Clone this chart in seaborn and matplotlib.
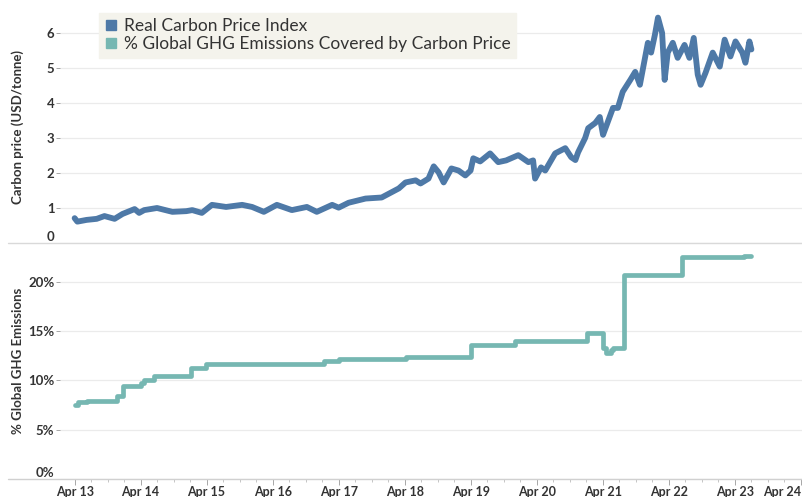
import pandas as pd
import matplotlib
matplotlib.use("Agg")
import matplotlib.pyplot as plt
import matplotlib.dates as mdates
from matplotlib.lines import Line2D
from matplotlib.ticker import FuncFormatter
import seaborn as sns

# Real carbon price index (USD/tonne)
price_dates = [
    "2013-04-01", "2013-04-16", "2013-06-06", "2013-08-01", "2013-09-13", "2013-11-08",
    "2013-12-22", "2014-02-27", "2014-03-24", "2014-04-21", "2014-07-01", "2014-09-24",
    "2014-12-10", "2015-01-12", "2015-03-06", "2015-05-01", "2015-07-18", "2015-10-15",
    "2015-12-09", "2016-02-12", "2016-04-24", "2016-07-16", "2016-10-07", "2016-12-01",
    "2017-02-24", "2017-04-01", "2017-05-26", "2017-08-28", "2017-11-25", "2018-02-28",
    "2018-04-06", "2018-06-01", "2018-06-28", "2018-08-11", "2018-09-09", "2018-10-06",
    "2018-11-03", "2018-12-16", "2019-01-24", "2019-03-03", "2019-04-01", "2019-04-16",
    "2019-05-24", "2019-07-18", "2019-09-01", "2019-10-15", "2019-12-21", "2020-02-15",
    "2020-03-12", "2020-03-23", "2020-04-25", "2020-05-18", "2020-07-12", "2020-09-06",
    "2020-10-09", "2020-11-01", "2020-11-16", "2020-12-25", "2021-01-11", "2021-02-19",
    "2021-03-16", "2021-04-03", "2021-05-28", "2021-06-24", "2021-07-21", "2021-09-01",
    "2021-09-28", "2021-10-24", "2021-12-07", "2021-12-25", "2022-01-15", "2022-02-01",
    "2022-02-24", "2022-03-10", "2022-03-27", "2022-04-24", "2022-05-21", "2022-06-28",
    "2022-07-25", "2022-08-18", "2022-09-09", "2022-09-25", "2022-10-22", "2022-12-01",
    "2023-01-09", "2023-02-05", "2023-03-09", "2023-04-06", "2023-05-14", "2023-05-31",
    "2023-06-22", "2023-07-03",
]
price_values = [
    0.71, 0.61, 0.66, 0.69, 0.77, 0.69,
    0.83, 0.97, 0.86, 0.94, 1.00, 0.89,
    0.91, 0.94, 0.86, 1.09, 1.03, 1.09,
    1.03, 0.89, 1.09, 0.94, 1.03, 0.89,
    1.09, 1.01, 1.15, 1.27, 1.30, 1.56,
    1.73, 1.79, 1.70, 1.84, 2.19, 2.02,
    1.73, 2.13, 2.07, 1.93, 2.07, 2.42,
    2.33, 2.56, 2.31, 2.36, 2.51, 2.31,
    2.36, 1.84, 2.16, 2.07, 2.56, 2.71,
    2.45, 2.37, 2.59, 3.00, 3.28, 3.43,
    3.60, 3.09, 3.86, 3.86, 4.32, 4.66,
    4.89, 4.52, 5.72, 5.44, 5.95, 6.44,
    6.00, 4.66, 5.44, 5.72, 5.29, 5.66,
    5.29, 5.86, 4.81, 4.52, 4.86, 5.44,
    5.04, 5.81, 5.33, 5.76, 5.44, 5.15,
    5.76, 5.53,
]

# % of global GHG emissions covered by a carbon price (step changes)
cover_dates = [
    "2013-04-01", "2013-04-20", "2013-06-10", "2013-11-24", "2013-12-22", "2014-04-04",
    "2014-04-21", "2014-06-15", "2015-01-06", "2015-03-28", "2017-01-10", "2017-04-01",
    "2018-04-06", "2019-04-04", "2019-12-04", "2021-01-05", "2021-04-03", "2021-04-18",
    "2021-05-16", "2021-05-28", "2021-07-27", "2022-06-12", "2023-05-25", "2023-07-03",
]
cover_values = [
    7.5, 7.8, 7.9, 8.4, 9.4, 9.75,
    10.06, 10.4, 11.2, 11.6, 11.9, 12.2,
    12.4, 13.6, 14.0, 14.8, 13.3, 12.8,
    13.1, 13.3, 20.7, 22.5, 22.6, 22.6,
]

legend_labels = ["Real Carbon Price Index", "% Global GHG Emissions Covered by Carbon Price"]
blue = "#4e79a7"
teal = "#76b7b2"

price = pd.DataFrame({"date": pd.to_datetime(price_dates), "value": price_values})
cover = pd.DataFrame({"date": pd.to_datetime(cover_dates), "value": cover_values})

sns.set_style("white")
plt.rcParams["font.family"] = ["Lato", "DejaVu Sans"]

fig = plt.figure(figsize=(8.02, 4.97), dpi=100)
W, H = 802, 497
ax1 = fig.add_axes([60 / W, 1 - 243 / H, 742 / W, (243 - 12) / H])
ax2 = fig.add_axes([60 / W, 1 - 479 / H, 742 / W, (479 - 243) / H], sharex=ax1)

sns.lineplot(data=price, x="date", y="value", ax=ax1, color=blue, linewidth=4.2,
             solid_capstyle="round", solid_joinstyle="round")
sns.lineplot(data=cover, x="date", y="value", ax=ax2, color=teal, linewidth=3.4,
             drawstyle="steps-post", solid_capstyle="round")

ax1.set_ylim(0, 6.6)
ax1.set_yticks([0, 1, 2, 3, 4, 5, 6])
ax2.set_ylim(0, 23.9)
ax2.set_yticks([0, 5, 10, 15, 20])
ax2.yaxis.set_major_formatter(FuncFormatter(lambda v, p: f"{v:.0f}%"))

ax1.set_xlim(pd.Timestamp("2013-01-10"), pd.Timestamp("2024-04-08"))
ax2.xaxis.set_major_locator(mdates.MonthLocator(bymonth=4))
ax2.xaxis.set_minor_locator(mdates.MonthLocator(bymonth=[1, 7, 10]))
ax2.xaxis.set_major_formatter(mdates.DateFormatter("%b %y"))

for ax in (ax1, ax2):
    for s in ax.spines.values():
        s.set_visible(False)
    ax.grid(axis="y", color="#ebebeb", linewidth=0.9)
    ax.set_xlabel("")
    ax.tick_params(axis="y", which="major", length=3, width=0.6, color="#999999",
                   labelsize=9.5, labelcolor="#333333", pad=1, left=True)

ax1.tick_params(axis="x", which="both", bottom=False, labelbottom=False)
ax2.tick_params(axis="x", which="major", length=4, width=0.6, color="#999999",
                labelsize=9, labelcolor="#333333", bottom=True, pad=1)
ax2.tick_params(axis="x", which="minor", length=2.5, width=0.6, color="#bbbbbb", bottom=True)

for lab in ax1.get_yticklabels() + ax2.get_yticklabels() + ax2.get_xticklabels():
    lab.set_fontweight("bold")
ax1.get_yticklabels()[0].set_verticalalignment("bottom")
ax2.get_yticklabels()[0].set_verticalalignment("bottom")
ax2.get_xticklabels()[-1].set_horizontalalignment("right")

ax1.set_ylabel("Carbon price (USD/tonne)", fontsize=9.5, fontweight="bold", color="#333333")
ax2.set_ylabel("% Global GHG Emissions", fontsize=9.5, fontweight="bold", color="#333333")
ax1.yaxis.set_label_coords(-0.048, 0.5)
ax2.yaxis.set_label_coords(-0.048, 0.5)

# panel divider and baseline running under the axis labels
fig.add_artist(Line2D([8 / W, 1], [1 - 243 / H] * 2, color="#d9d9d9", linewidth=1))
fig.add_artist(Line2D([8 / W, 1], [1 - 479 / H] * 2, color="#d0d0d0", linewidth=1))

handles = [Line2D([], [], marker="s", linestyle="", color=blue, markersize=7),
           Line2D([], [], marker="s", linestyle="", color=teal, markersize=7)]
leg = ax1.legend(handles, legend_labels, loc="upper left", bbox_to_anchor=(0.053, 0.995),
                 borderaxespad=0, frameon=True, fancybox=False, fontsize=12.5,
                 handletextpad=0.3, handlelength=0.8, labelspacing=0.12,
                 borderpad=0.3)
leg.get_frame().set_facecolor("#f4f3ec")
leg.get_frame().set_edgecolor("#f4f3ec")
leg.get_frame().set_alpha(1)
for t in leg.get_texts():
    t.set_color("#333333")

fig.savefig("out.png", dpi=100)
